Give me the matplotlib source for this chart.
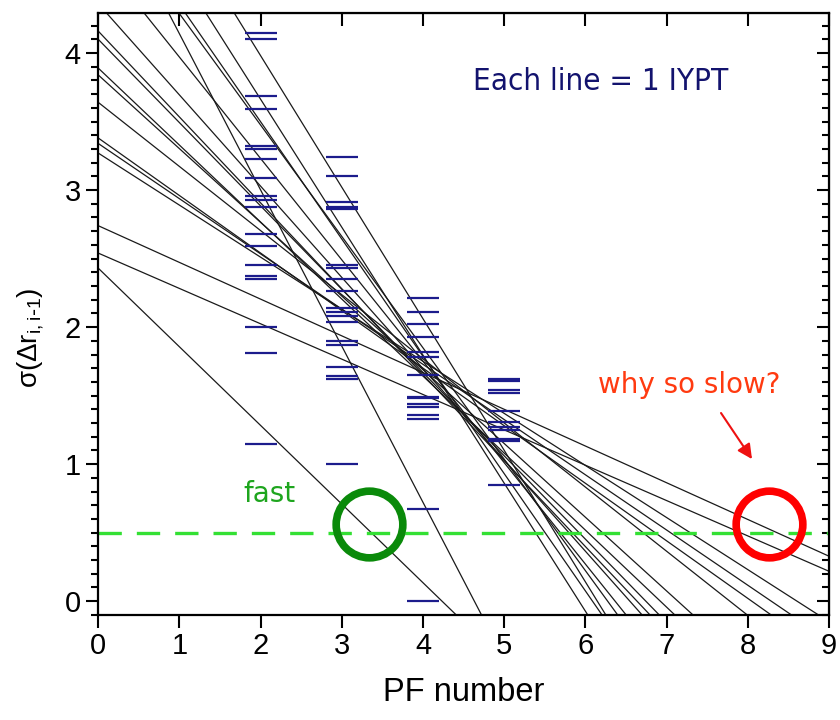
import numpy as np
import matplotlib.pyplot as plt
from matplotlib.ticker import MultipleLocator

plt.rcParams['font.family'] = ['Liberation Sans', 'DejaVu Sans']
plt.rcParams['mathtext.default'] = 'regular'

# spread of the rank differences, one set of dashes per PF
pf2 = [4.15, 4.10, 3.69, 3.59, 3.32, 3.30, 3.23, 3.09, 2.96, 2.93, 2.88,
       2.68, 2.59, 2.45, 2.37, 2.35, 2.00, 1.81, 1.15]
pf3 = [3.24, 3.10, 2.91, 2.88, 2.86, 2.45, 2.43, 2.35, 2.26, 2.14, 2.11,
       2.08, 2.04, 1.90, 1.87, 1.71, 1.64, 1.62, 1.00]
pf4 = [2.21, 2.11, 2.02, 1.93, 1.82, 1.78, 1.65, 1.49, 1.48, 1.44, 1.42,
       1.36, 1.33, 0.67, 0.00]
pf5 = [1.62, 1.61, 1.54, 1.52, 1.39, 1.31, 1.27, 1.25, 1.18, 1.17, 0.85]

# linear fit per IYPT: value at PF 0 and slope
fit_intercept = [2.43, 2.74, 2.54, 5.28, 3.27, 3.34, 3.38, 3.64, 3.84, 3.89,
                 4.10, 4.16, 4.36, 4.71, 5.10, 5.21, 5.53, 5.90]
fit_slope = [-0.574, -0.268, -0.258, -1.14, -0.380, -0.403, -0.420, -0.468,
             -0.538, -0.562, -0.608, -0.627, -0.666, -0.740, -0.813, -0.856,
             -0.934, -0.960]

fig = plt.figure(figsize=(8.4, 7.2), dpi=100)
ax = fig.add_axes([0.117, 0.146, 0.870, 0.8355])

xs = np.array([0.0, 9.0])
for b, m in zip(fit_intercept, fit_slope):
    ax.plot(xs, b + m * xs, color='#1a1a1a', lw=0.9)

for pf, vals in zip([2, 3, 4, 5], [pf2, pf3, pf4, pf5]):
    ax.plot([pf] * len(vals), vals, ls='none', marker='_', ms=23, mew=1.6,
            color='#1c1c8c')

ax.axhline(0.5, color='#33e033', lw=2.4, dashes=(7, 4.5))

ax.plot([3.33], [0.56], 'o', ms=48, mfc='none', mec='#0a8a0a', mew=5.5)
ax.plot([8.26], [0.56], 'o', ms=48, mfc='none', mec='#ff0000', mew=5.5)

ax.annotate('', xy=(8.07, 1.02), xytext=(7.65, 1.39),
            arrowprops=dict(arrowstyle='-|>', color='#ee1111', lw=1.5,
                            mutation_scale=22))

ax.text(6.19, 3.79, 'Each line = 1 IYPT', color='#13136e', fontsize=22.5,
        family='DejaVu Sans', stretch='condensed', ha='center', va='center')
ax.text(7.28, 1.58, 'why so slow?', color='#ff3a10', fontsize=20,
        family='DejaVu Sans', ha='center', va='center')
ax.text(2.11, 0.78, 'fast', color='#1ea51e', fontsize=20,
        family='DejaVu Sans', ha='center', va='center')

ax.set_xlim(0, 9)
ax.set_ylim(-0.1, 4.29)
ax.set_xticks(range(0, 10))
ax.set_yticks(range(0, 5))
ax.yaxis.set_minor_locator(MultipleLocator(0.1))
ax.tick_params(which='major', direction='out', length=9, width=1.5,
               labelsize=21)
ax.tick_params(which='minor', direction='out', length=5, width=1.5)
for s in ax.spines.values():
    s.set_linewidth(1.6)

top = ax.secondary_xaxis('top')
top.set_xticks(range(0, 10))
top.tick_params(direction='in', length=9, width=1.5, labeltop=False)
right = ax.secondary_yaxis('right')
right.set_yticks(range(0, 5))
right.yaxis.set_minor_locator(MultipleLocator(0.1))
right.tick_params(which='major', direction='in', length=9, width=1.5,
                  labelright=False)
right.tick_params(which='minor', direction='in', length=5, width=1.5)

ax.set_xlabel('PF number', fontsize=23.5, labelpad=12)
ax.set_ylabel(r'σ(Δr$_{i,i\text{-}1}$)', fontsize=20)
ax.yaxis.set_label_coords(-0.072, 0.46)

fig.savefig('out.png', dpi=100)
